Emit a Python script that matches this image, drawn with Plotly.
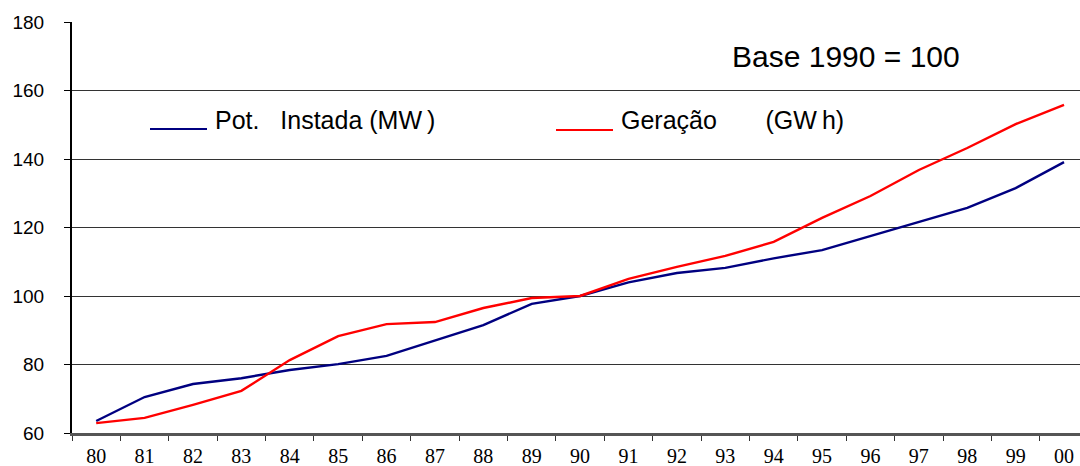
import plotly.graph_objects as go

years = ["80", "81", "82", "83", "84", "85", "86", "87", "88", "89", "90",
         "91", "92", "93", "94", "95", "96", "97", "98", "99", "00"]
pot_instada = [63.5, 70.5, 74.3, 76.0, 78.4, 80.1, 82.5, 87.0, 91.5, 97.7, 100.0,
               104.0, 106.7, 108.2, 111.0, 113.4, 117.5, 121.6, 125.7, 131.5, 139.1]
geracao = [62.9, 64.4, 68.2, 72.3, 81.3, 88.3, 91.8, 92.4, 96.5, 99.4, 100.0,
           105.0, 108.5, 111.7, 115.8, 122.8, 129.2, 136.8, 143.2, 150.2, 155.8]
y_ticks = [60, 80, 100, 120, 140, 160, 180]

BLUE = "#000080"
RED = "#ff0000"

fig = go.Figure()
fig.add_trace(go.Scatter(x=years, y=pot_instada, mode="lines",
                         line=dict(color=BLUE, width=2.4), name="Pot. Instada (MW)"))
fig.add_trace(go.Scatter(x=years, y=geracao, mode="lines",
                         line=dict(color=RED, width=2.4), name="Geração (GWh)"))

nb = "\u00a0"
fig.add_shape(type="line", xref="paper", yref="paper",
              x0=(150 - 72) / 1008, x1=(207 - 72) / 1008,
              y0=(433 - 129) / 411, y1=(433 - 129) / 411,
              line=dict(color=BLUE, width=2))
fig.add_shape(type="line", xref="paper", yref="paper",
              x0=(556 - 72) / 1008, x1=(613 - 72) / 1008,
              y0=(433 - 130) / 411, y1=(433 - 130) / 411,
              line=dict(color=RED, width=2))
fig.add_annotation(xref="paper", yref="paper", x=(213 - 72) / 1008, y=(433 - 120) / 411,
                   text="Pot." + nb * 3 + "Instada (MW\u2009)", showarrow=False,
                   xanchor="left", yanchor="middle",
                   font=dict(family="Liberation Sans, Arial", size=25, color="black"))
fig.add_annotation(xref="paper", yref="paper", x=(619 - 72) / 1008, y=(433 - 120) / 411,
                   text="Geração" + nb * 7 + "(GW\u2009h)", showarrow=False,
                   xanchor="left", yanchor="middle",
                   font=dict(family="Liberation Sans, Arial", size=25, color="black"))
fig.add_annotation(xref="paper", yref="paper", x=(730 - 72) / 1008, y=(433 - 56) / 411,
                   text="Base 1990 = 100", showarrow=False,
                   xanchor="left", yanchor="middle",
                   font=dict(family="Liberation Sans, Arial", size=30, color="black"))

fig.update_layout(
    width=1080, height=466,
    margin=dict(l=72, r=0, t=22, b=33),
    paper_bgcolor="white", plot_bgcolor="white",
    showlegend=False,
    xaxis=dict(type="category", range=[-0.5, 20.33], tickson="boundaries",
               ticks="outside", ticklen=5, tickcolor="#333", tickwidth=1,
               showline=True, linecolor="#555", linewidth=3,
               showgrid=False, zeroline=False, ticklabelstandoff=3,
               tickfont=dict(family="Liberation Serif, Times New Roman", size=20, color="black")),
    yaxis=dict(range=[60, 180], tickvals=y_ticks,
               ticks="outside", ticklen=6, tickcolor="black", tickwidth=1,
               showline=True, linecolor="black", linewidth=2,
               showgrid=True, gridcolor="#333", gridwidth=1, zeroline=False,
               ticklabelstandoff=16,
               tickfont=dict(family="Liberation Sans, Arial", size=19, color="black")),
)

fig.write_html("out.html", config={"displayModeBar": False},
               post_script="document.body.style.margin='0';document.body.style.overflow='hidden';")
